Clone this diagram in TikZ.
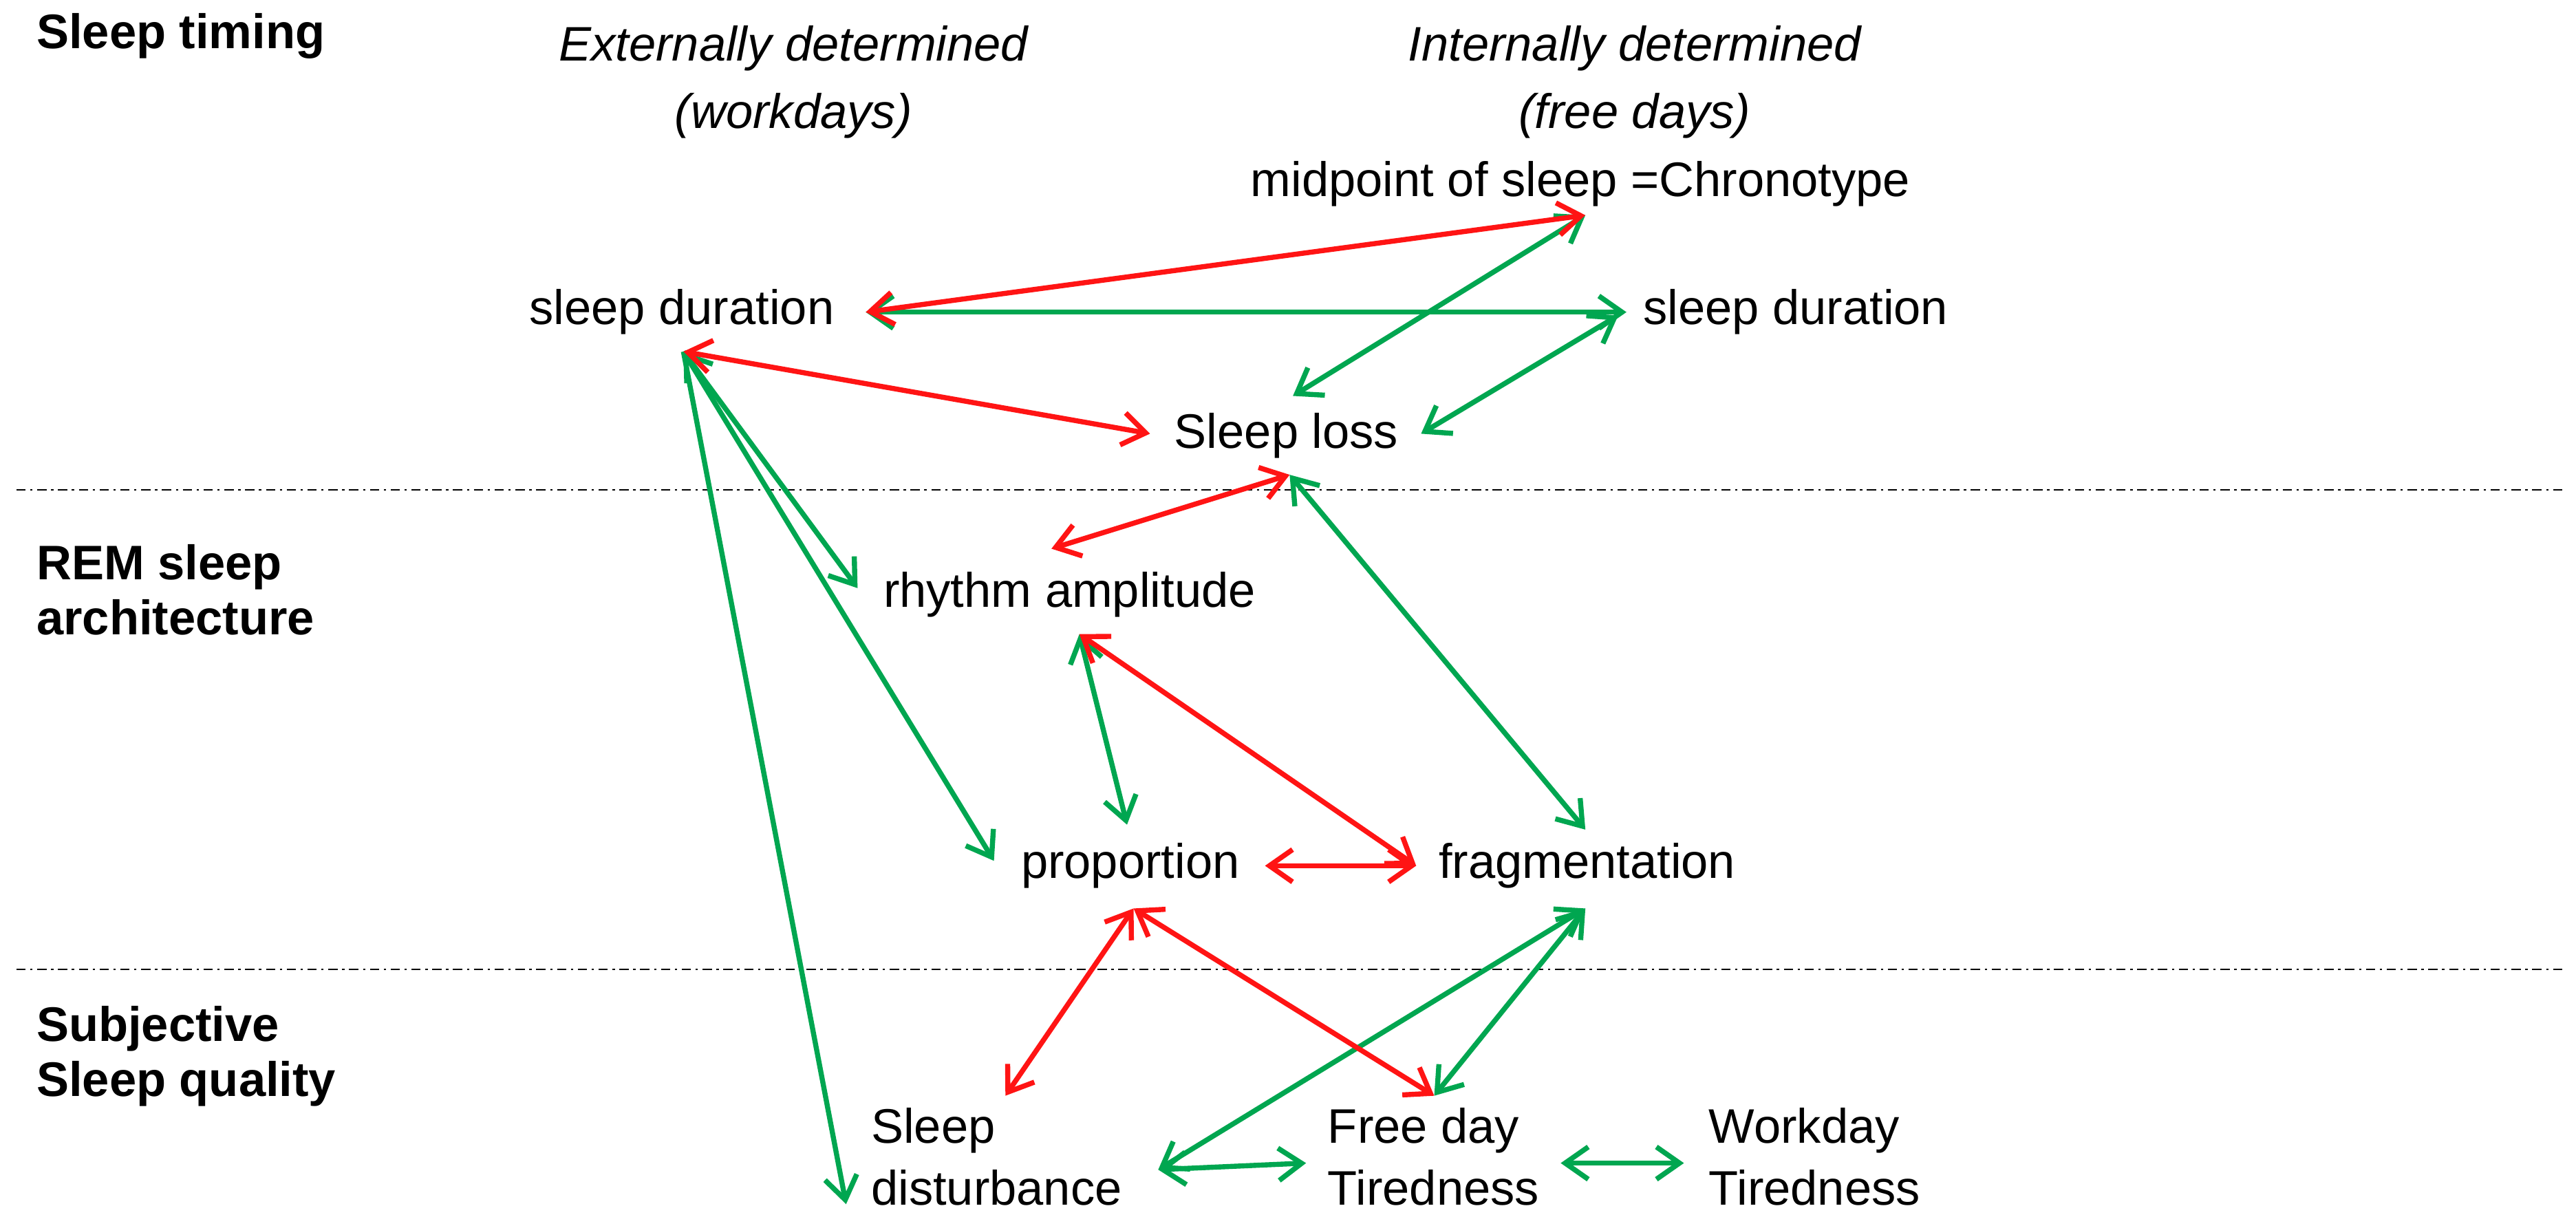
\documentclass[tikz,border=0pt]{standalone}
\usepackage{fontspec}
\setmainfont{Liberation Sans}
\usetikzlibrary{arrows.meta}
\definecolor{rd}{RGB}{255,20,20}
\definecolor{gr}{RGB}{0,166,80}
\begin{document}
\begin{tikzpicture}[x=0.025cm,y=-0.025cm,
  txt/.style={font=\fontsize{21}{25}\selectfont, inner sep=0pt},
  hd/.style={font=\fontsize{21}{25}\selectfont\bfseries, inner sep=0pt, anchor=west},
  it/.style={font=\fontsize{21}{25}\selectfont\itshape, inner sep=0pt, align=center},
  two/.style={txt, align=left, anchor=north west},
  r/.style={draw=rd, line width=2.2pt, {Straight Barb[length=10pt,width=14pt]}-{Straight Barb[length=10pt,width=14pt]}},
  g/.style={draw=gr, line width=2.2pt, {Straight Barb[length=10pt,width=14pt]}-{Straight Barb[length=10pt,width=14pt]}},
  gs/.style={draw=gr, line width=2.2pt, -{Straight Barb[length=10pt,width=14pt]}},
  sep/.style={draw=black, line width=0.6pt, dash pattern=on 4pt off 2pt on 1pt off 2pt}]
\useasboundingbox (0,0) rectangle (1568,746);
\node[hd] (h1) at (22,22) {Sleep timing};
\node[hd,align=left] (h2) at (22,359) {REM sleep\\[-1pt]architecture};
\node[hd,align=left] (h3) at (22,643) {Subjective\\[-1pt]Sleep quality};
\node[it] (ext) at (483,50) {Externally determined\\[4pt](workdays)};
\node[it] (int) at (995,50) {Internally determined\\[4pt](free days)};
\node[txt] (chr) at (962,112) {midpoint of sleep =Chronotype};
\node[txt] (sdw) at (415,190) {sleep duration};
\node[txt] (sdf) at (1093,190) {sleep duration};
\node[txt] (loss) at (783,265) {Sleep loss};
\node[txt] (rhy) at (651,362) {rhythm amplitude};
\node[txt] (pro) at (688,527) {proportion};
\node[txt] (fra) at (966,527) {fragmentation};
\node[two] (sd) at (530,674) {Sleep\\[2pt]disturbance};
\node[two] (fd) at (808,674) {Free day\\[2pt]Tiredness};
\node[two] (wd) at (1040,674) {Workday\\[2pt]Tiredness};
\coordinate (l1a) at (10,298); \coordinate (l1b) at (1560,298);
\coordinate (l2a) at (10,590); \coordinate (l2b) at (1560,590);
\draw[sep] (l1a) -- (l1b);
\draw[sep] (l2a) -- (l2b);
% anchor points
\coordinate (chrB) at (965,131);
\coordinate (sdwR) at (527,190);
\coordinate (sdwB) at (416,214);
\coordinate (sdfL) at (990,190);
\coordinate (sdfB) at (985,192);
\coordinate (lossL) at (700,264);
\coordinate (lossR) at (865,264);
\coordinate (lossT) at (787,241);
\coordinate (lossB) at (785,289);
\coordinate (rhyL) at (522,358);
\coordinate (rhyTL) at (640,334);
\coordinate (rhyB) at (657,386);
\coordinate (proL) at (605,524);
\coordinate (proR) at (770,527);
\coordinate (proT) at (686,502);
\coordinate (proB) at (690,553);
\coordinate (fraL) at (862,527);
\coordinate (fraT) at (965,505);
\coordinate (fraB) at (965,553);
\coordinate (sdT) at (612,667);
\coordinate (sdL) at (515,733);
\coordinate (sdR) at (705,712);
\coordinate (fdT) at (873,667);
\coordinate (fdL) at (795,708);
\coordinate (fdR) at (950,708);
\coordinate (wdL) at (1025,708);
% green
\draw[g] (sdwR) -- (sdfL);
\draw[g] (chrB) -- (lossT);
\draw[g] (sdfB) -- (lossR);
\draw[g] (sdwB) -- (rhyL);
\draw[gs] (sdwB) -- (proL);
\draw[gs] (sdwB) -- (sdL);
\draw[g] (lossB) -- (fraT);
\draw[g] (rhyB) -- (proT);
\draw[g] (fraB) -- (sdR);
\draw[g] (fraB) -- (fdT);
\draw[g] (sdR) -- (fdL);
\draw[g] (fdR) -- (wdL);
% red
\draw[r] (chrB) -- (sdwR);
\draw[r] (sdwB) -- (lossL);
\draw[r] (lossB) -- (rhyTL);
\draw[r] (rhyB) -- (fraL);
\draw[r] (proR) -- (fraL);
\draw[r] (proB) -- (sdT);
\draw[r] (proB) -- (fdT);
\end{tikzpicture}
\end{document}
